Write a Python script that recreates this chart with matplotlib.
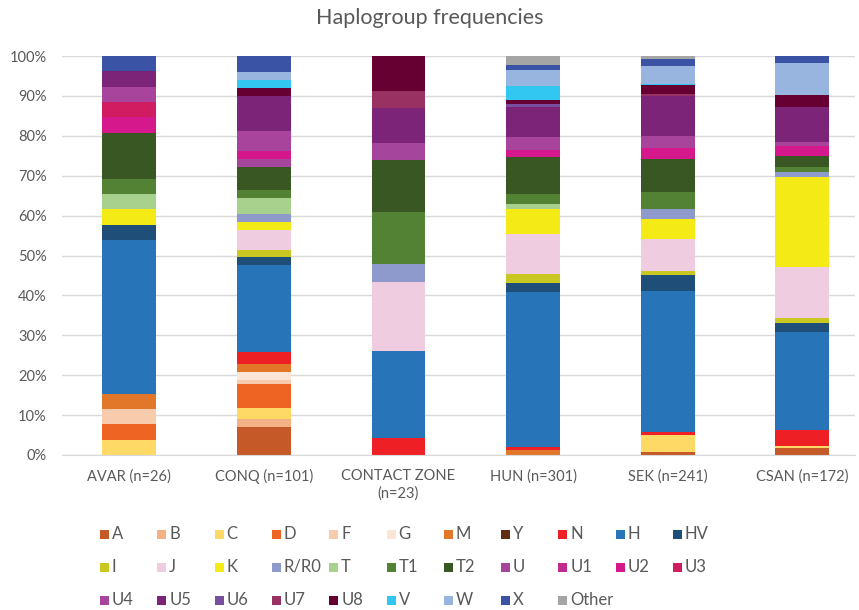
import matplotlib
matplotlib.use("Agg")
import matplotlib.pyplot as plt
from matplotlib.patches import Rectangle
import numpy as np

plt.rcParams['font.family'] = ['Lato', 'DejaVu Sans']

# populations on the x axis
populations = ["AVAR (n=26)", "CONQ (n=101)", "CONTACT ZONE\n(n=23)",
               "HUN (n=301)", "SEK (n=241)", "CSAN (n=172)"]

haplogroups = ["A", "B", "C", "D", "F", "G", "M", "Y", "N", "H", "HV",
               "I", "J", "K", "R/R0", "T", "T1", "T2", "U", "U1", "U2", "U3",
               "U4", "U5", "U6", "U7", "U8", "V", "W", "X", "Other"]

colors = ["#C55A28", "#F4B183", "#FFD966", "#EE6423", "#F8CBAD", "#FBE5D6",
          "#E2772A", "#5E2D12", "#EE2026", "#2874B8", "#1F4E79",
          "#C9C823", "#EFCCE0", "#F4EB16", "#8E9ACC", "#A9D18E", "#548235",
          "#385723", "#A5459C", "#BE2A8F", "#D6188D", "#D11C62",
          "#A8449B", "#7B2478", "#7A4E9E", "#9A3163", "#660033", "#31C7F0",
          "#97B5DE", "#3A53A4", "#A5A5A5"]

# frequencies (%) in haplogroup order
#        A     B     C     D     F     G     M     Y    N      H      HV    I     J      K      R/R0  T     T1     T2     U     U1   U2    U3    U4    U5    U6   U7    U8    V     W     X     Other
avar = [0,    0,    3.85, 3.85, 3.85, 0,    3.85, 0,   0,     38.46, 3.85, 0,    0,     3.85,  0,    3.85, 3.85,  11.54, 0,    0,   3.85, 3.85, 3.85, 3.85, 0,   0,    0,    0,    0,    3.85, 0]
conq = [6.93, 1.98, 2.97, 5.94, 0.99, 1.98, 1.98, 0,   2.97,  21.78, 1.98, 1.98, 4.95,  1.98,  1.98, 3.96, 1.98,  5.94,  1.98, 0,   1.98, 0,    4.95, 8.91, 0,   0,    1.98, 1.98, 1.98, 3.96, 0]
contact = [0, 0,    0,    0,    0,    0,    0,    0,   4.35,  21.74, 0,    0,    17.39, 0,     4.35, 0,    13.04, 13.04, 4.35, 0,   0,    0,    0,    8.70, 0,   4.35, 8.70, 0,    0,    0,    0]
hun =  [0,    0,    0,    0,    0,    0,    1.3,  0,   0.7,   38.8,  2.3,  2.3,  10.0,  6.3,   0,    1.25, 2.5,   9.2,   0,    0,   1.8,  0,    3.3,  7.5,  0.8, 0,    0.8,  3.6,  4.1,  1.3,  2.15]
sek =  [0.8,  0,    4.2,  0,    0,    0,    0,    0,   0.8,   35.3,  4.0,  1.0,  8.1,   5.1,   2.4,  0,    4.4,   8.1,   0,    0,   2.9,  0,    3.0,  9.9,  0,   0.5,  2.4,  0.3,  4.4,  1.7,  0.8]
csan = [1.74, 0,    0.58, 0,    0,    0,    0,    0,   4.07,  24.42, 2.33, 1.16, 12.79, 22.67, 1.16, 0,    1.16,  2.91,  0,    0,   2.33, 0,    1.16, 8.72, 0,   0,    2.91, 0,    8.14, 1.74, 0]

data = np.array([avar, conq, contact, hun, sek, csan])
data = data / data.sum(axis=1, keepdims=True)

W, H = 859, 610
fig = plt.figure(figsize=(W / 100, H / 100), dpi=100)
ax_l, ax_r, ax_t, ax_b = 62, 855, 56, 455
ax = fig.add_axes([ax_l / W, 1 - ax_b / H, (ax_r - ax_l) / W, (ax_b - ax_t) / H])

step = 134.6
x = np.arange(len(populations))
left = -(129.3 - ax_l) / step
ax.set_xlim(left, left + (ax_r - ax_l) / step)
ax.set_ylim(0, 1)

bottom = np.zeros(len(populations))
for j, hg in enumerate(haplogroups):
    ax.bar(x, data[:, j], 0.4, bottom=bottom, color=colors[j], linewidth=0, zorder=3)
    bottom += data[:, j]

ax.set_yticks(np.arange(0, 1.01, 0.1))
ax.set_yticklabels([f"{v}%" for v in range(0, 101, 10)], fontsize=10.5, color="#595959")
ax.set_xticks(x)
ax.set_xticklabels(populations, fontsize=10.5, color="#595959", linespacing=1.3)
ax.tick_params(length=0)
ax.tick_params(axis="y", pad=11)
ax.tick_params(axis="x", pad=10)
ax.grid(axis="y", color="#D9D9D9", linewidth=1, zorder=0)
for s in ["top", "right", "left"]:
    ax.spines[s].set_visible(False)
ax.spines["bottom"].set_color("#D9D9D9")
ax.spines["bottom"].set_zorder(4)

fig.text(0.5, 1 - 18 / H, "Haplogroup frequencies", ha="center", va="center",
         fontsize=15.5, color="#595959")

# legend: 3 rows, 11 columns, row-major
col_x0, col_dx = 100, 57.3
row_y = [534, 567, 600]
for k, hg in enumerate(haplogroups):
    r, c = divmod(k, 11)
    px = col_x0 + c * col_dx
    py = row_y[r]
    fig.add_artist(Rectangle((px / W, 1 - (py + 4.5) / H), 9 / W, 9 / H,
                             facecolor=colors[k], edgecolor="none",
                             transform=fig.transFigure))
    fig.text((px + 12) / W, 1 - py / H, hg, ha="left", va="center",
             fontsize=12, color="#595959")

fig.savefig("out.png", dpi=100)
